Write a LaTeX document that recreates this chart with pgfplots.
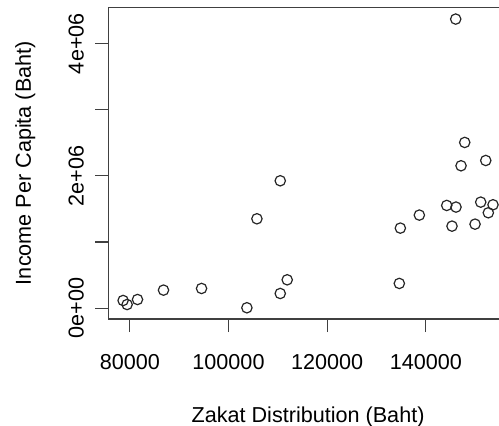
\documentclass[border=0pt]{standalone}
\usepackage{fontspec}
\setmainfont{Liberation Sans}
\usepackage{pgfplots}
\pgfplotsset{compat=1.18}
\usetikzlibrary{calc}

\begin{document}
\begin{tikzpicture}
\begin{axis}[
  name=ax,
  scale only axis,
  width=199.75pt, height=155.85pt,
  xmin=75640, xmax=156610,
  ymin=-165000, ymax=4550000,
  axis line style={black!75, line width=0.55pt},
  tick style={black!75, line width=0.55pt},
  tick align=outside,
  major tick length=6.5pt,
  xtick pos=lower, ytick pos=left,
  xtick={80000,100000,120000,140000},
  xticklabels={80000,100000,120000,140000},
  ytick={0,1000000,2000000,3000000,4000000},
  yticklabels={0e+00,,2e+06,,4e+06},
  scaled ticks=false,
  font=\fontsize{10.8}{12}\selectfont,
  xticklabel style={anchor=center, yshift=-15pt},
  yticklabel style={xshift=-9.5pt, rotate=90, anchor=center},
  xlabel={Zakat Distribution (Baht)},
  ylabel={Income Per Capita (Baht)},
  xlabel style={at={(axis description cs:0.5,-0.314)}, anchor=center},
  ylabel style={at={(axis description cs:-0.2078,0.5)}, anchor=center, rotate=0},
]
\addplot[only marks, mark=o, mark size=2.6pt,
  mark options={line width=0.6pt, draw=black!85}] coordinates {
  (78640,115000) (79450,54000) (81560,130000) (86830,272000)
  (94540,297000) (103730,5000) (105760,1351000) (110490,1926000)
  (110490,221000) (111900,428000) (134620,373000) (134830,1210000)
  (138680,1407000) (144230,1553000) (146050,4372000) (146110,1528000)
  (145300,1240000) (147130,2153000) (147880,2506000) (149970,1270000)
  (152140,2233000) (151120,1603000) (152660,1442000) (153610,1563000)
};
\end{axis}
\pgfresetboundingbox
\path[use as bounding box] ($(ax.south west)+(-54.15pt,-53pt)$) rectangle ($(ax.south west)+(195.35pt,159.5pt)$);
\end{tikzpicture}
\end{document}
